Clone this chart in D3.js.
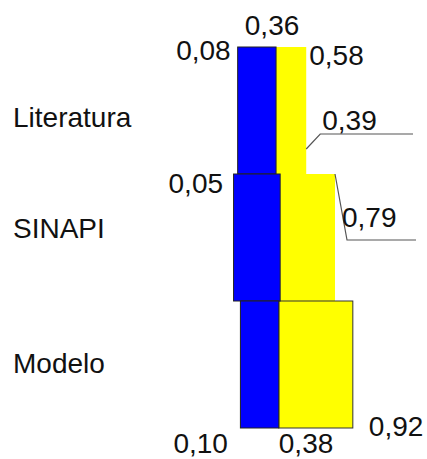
<!DOCTYPE html>
<html>
<head>
<meta charset="utf-8">
<script src="https://cdn.jsdelivr.net/npm/d3@7"></script>
<style>
  html, body { margin: 0; padding: 0; background: #fff; }
  svg { display: block; }
  text { font-family: "Liberation Sans", Arial, sans-serif; fill: #111; }
</style>
</head>
<body>
<script>
// ---- data ----
const categories = ["Literatura", "SINAPI", "Modelo"];
const minVals = [0.08, 0.05, 0.10];
const midVals = [0.36, 0.39, 0.38];
const maxVals = [0.58, 0.79, 0.92];

// ---- rendering ----
const W = 427, H = 459;
const svg = d3.select("body").append("svg").attr("width", W).attr("height", H);

const x = d3.scaleLinear().domain([0, 1]).range([226.7, 363.8]);
const y = d3.scaleBand().domain(categories).range([47, 428]).padding(0);

const loc = d3.formatLocale({ decimal: ",", thousands: ".", grouping: [3], currency: ["", ""] });
const fmt = loc.format(".2f");

const rows = categories.map((c, i) => ({ c, i, min: minVals[i], mid: midVals[i], max: maxVals[i] }));

// yellow segments (mid -> max)
svg.selectAll("rect.yellow").data(rows).join("rect")
  .attr("class", "yellow")
  .attr("x", d => x(d.mid))
  .attr("y", d => y(d.c))
  .attr("width", d => x(d.max) - x(d.mid))
  .attr("height", y.bandwidth())
  .attr("fill", "#ffff00")
  .attr("stroke", d => d.i === categories.length - 1 ? "#333" : "none")
  .attr("stroke-width", 1);

// blue segments (min -> mid)
svg.selectAll("rect.blue").data(rows).join("rect")
  .attr("class", "blue")
  .attr("x", d => x(d.min))
  .attr("y", d => y(d.c))
  .attr("width", d => x(d.mid) - x(d.min))
  .attr("height", y.bandwidth())
  .attr("fill", "#0000ff")
  .attr("stroke", "#222")
  .attr("stroke-width", 1);

const fs = 28;
function label(txt, px, py, anchor) {
  svg.append("text").attr("x", px).attr("y", py)
    .attr("text-anchor", anchor).attr("font-size", fs).text(txt);
}
function leader(pts) {
  svg.append("path").attr("d", d3.line()(pts))
    .attr("fill", "none").attr("stroke", "#555").attr("stroke-width", 1.2);
}

// category labels
const catDy = [16, 0, 8];
rows.forEach(d => {
  label(d.c, 13, y(d.c) + y.bandwidth() / 2 + catDy[d.i], "start");
});

// value labels
const r0 = rows[0], r1 = rows[1], r2 = rows[2];
const t0 = y(r0.c), b0 = t0 + y.bandwidth();
const t1 = y(r1.c);
const t2 = y(r2.c), b2 = t2 + y.bandwidth();

// Literatura
label(fmt(r0.min), x(r0.min) - 7, t0 + 13, "end");
label(fmt(r0.mid), x(r0.mid) - 4, t0 - 12, "middle");
label(fmt(r0.max), x(r0.max) + 3, t0 + 18, "start");

// SINAPI
label(fmt(r1.min), x(r1.min) - 10.5, t1 + 19, "end");
const e1 = [x(r0.max) + 14, b0 - 40];
leader([[x(r0.max), b0 - 25], e1, [413, e1[1]]]);
label(fmt(r1.mid), e1[0] + 2, e1[1] - 4, "start");
const e2 = [x(r1.max) + 12, t1 + 66];
leader([[x(r1.max), t1], e2, [416, e2[1]]]);
label(fmt(r1.max), x(r1.max) + 7, t1 + 53, "start");

// Modelo
label(fmt(r2.min), x(r2.min) - 12.5, b2 + 24.5, "end");
label(fmt(r2.mid), x(r2.mid), b2 + 25, "start");
label(fmt(r2.max), x(r2.max) + 16, b2 + 8, "start");
</script>
</body>
</html>
